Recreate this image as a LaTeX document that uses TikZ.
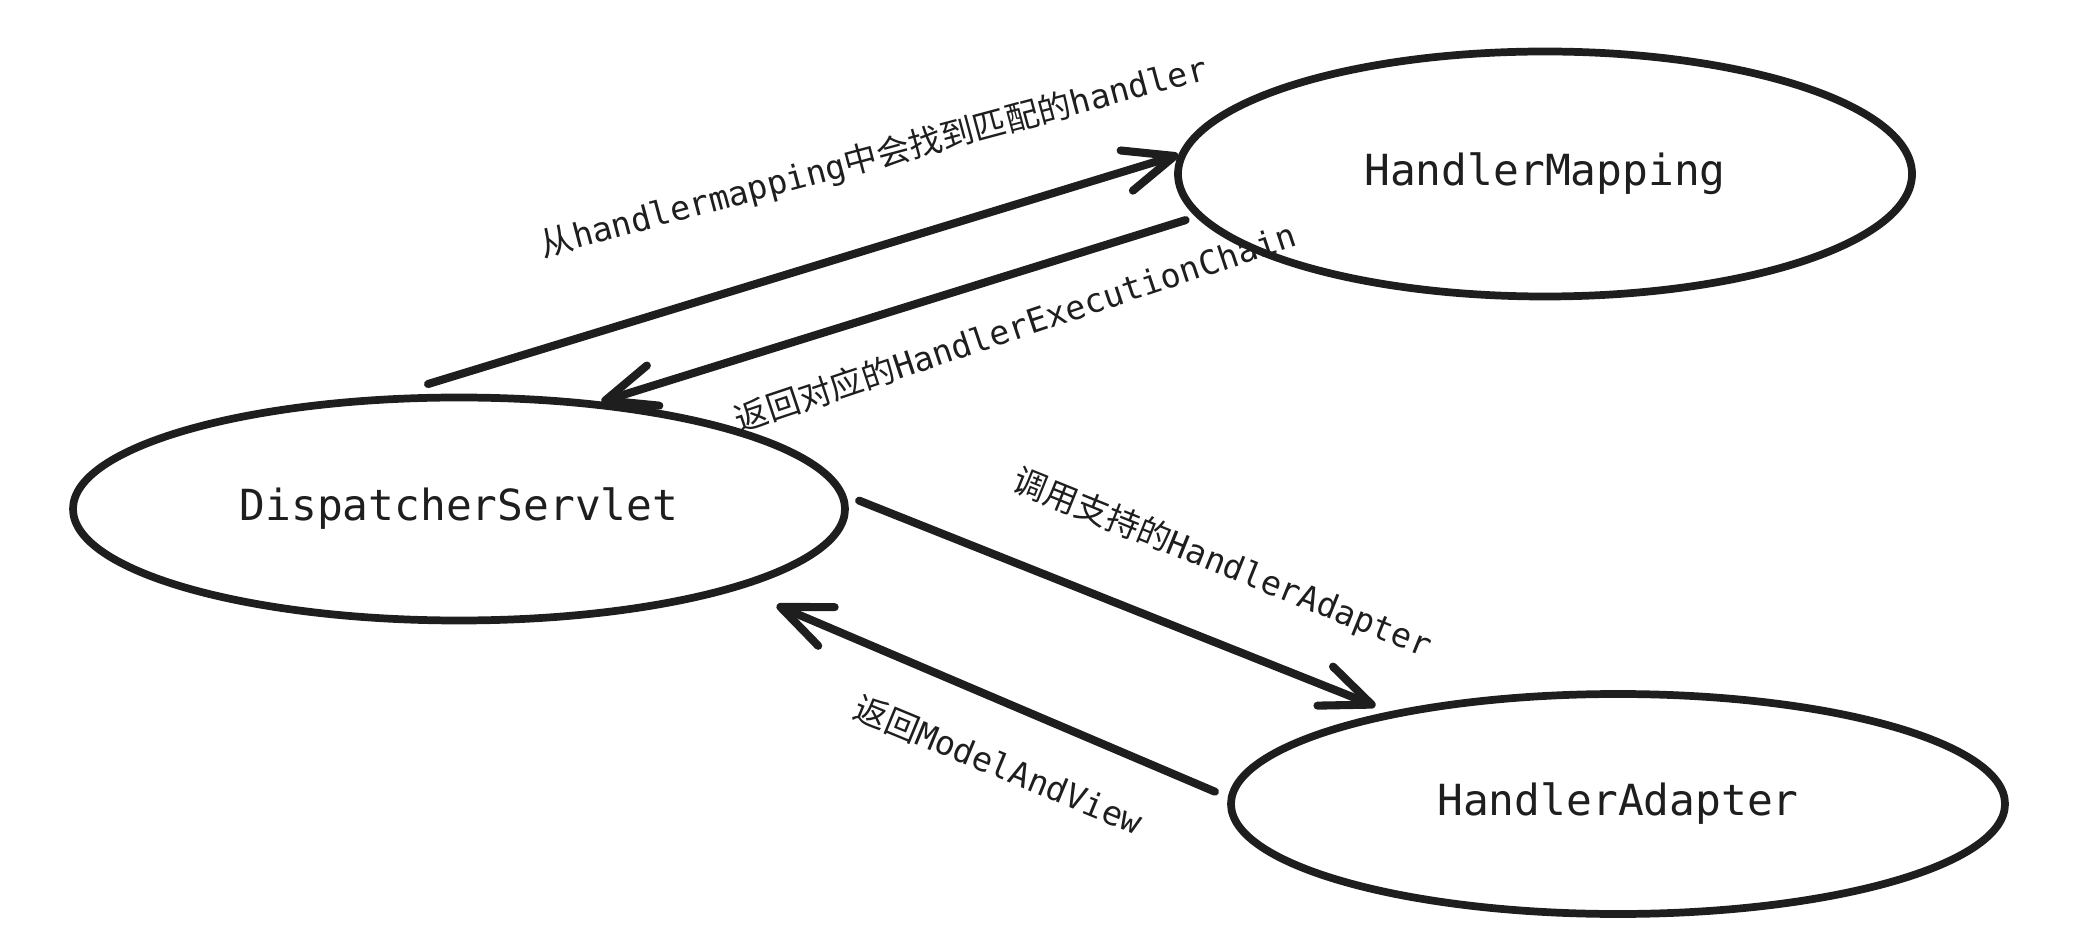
\documentclass[tikz,border=0pt]{standalone}
\usepackage{fontspec}
\setmainfont{DejaVu Sans Mono}
\newfontfamily\cjk{Noto Sans CJK SC}
\usetikzlibrary{shapes.geometric,arrows.meta}
\definecolor{ink}{HTML}{1E1E1E}
\tikzset{
  oval/.style={ellipse, draw=ink, line width=2.2pt, inner sep=0pt, text=ink,
    font=\fontsize{12.2}{14}\selectfont},
  arr/.style={draw=ink, line width=2.3pt, line cap=round,
    -{Straight Barb[length=5mm, width=4.2mm, round]}},
  lbl/.style={text=ink, inner sep=0pt, font=\fontsize{9.5}{11}\selectfont}
}
\begin{document}
\begin{tikzpicture}
\useasboundingbox (0,0) rectangle (20.93,9.35);
\node[oval, minimum width=7.72cm, minimum height=2.23cm] (ds) at (4.59,4.26) {DispatcherServlet};
\node[oval, minimum width=7.34cm, minimum height=2.45cm] (hm) at (15.45,7.61) {HandlerMapping};
\node[oval, minimum width=7.74cm, minimum height=2.20cm] (ha) at (16.18,1.31) {HandlerAdapter};

\draw[arr, shorten <=0.39cm] (ds.121.2) -- (hm.177);
\draw[arr, shorten <=0.11cm] (hm.187.4) -- (ds.37.7);
\draw[arr, shorten <=0.14cm, shorten >=0.15cm] (ds.2.4) -- (ha.158.9);
\draw[arr, shorten <=0.14cm, shorten >=0.41cm] (ha.179.8) -- (ds.-16.6);

\node[lbl, rotate=15] (l1) at (8.74,7.77) {{\cjk 从}handlermapping{\cjk 中会找到匹配的}handler};
\node[lbl, rotate=18.5] (l2) at (10.15,6.08) {{\cjk 返回对应的}HandlerExecutionChain};
\node[lbl, rotate=-22] (l3) at (12.22,3.71) {{\cjk 调用支持的}HandlerAdapter};
\node[lbl, rotate=-22.5] (l4) at (9.99,1.70) {{\cjk 返回}ModelAndView};
\end{tikzpicture}
\end{document}
